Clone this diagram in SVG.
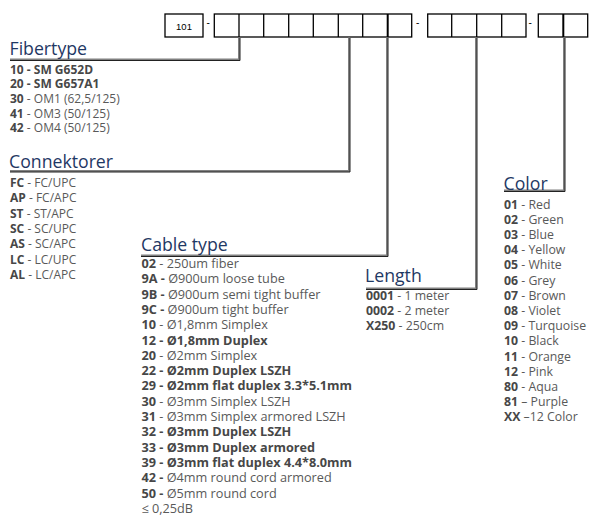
<svg xmlns="http://www.w3.org/2000/svg" width="602" height="521" viewBox="0 0 602 521">
<style>
.box{fill:#fff;stroke:#000;stroke-width:1.3}
.h{font-family:"Open Sans","Liberation Sans",sans-serif;font-size:17.7px;fill:#1f3864}
.t{font-family:"Open Sans","Liberation Sans",sans-serif;font-size:12px;fill:#595959}
.c{font-size:12.7px}
.m{font-size:12.3px}
.b{font-weight:bold;fill:#474747}
.dash{font-family:"Liberation Sans",sans-serif;font-size:10px;fill:#000}
.lg{fill:none;stroke:#808080;stroke-width:2}
.ld{fill:none;stroke:#222;stroke-width:1}
</style>
<rect width="602" height="521" fill="#fff"/>
<g id="code-boxes">
<rect class="box" x="165" y="14" width="38" height="23"/>
<text x="184" y="29.5" text-anchor="middle" font-family="Liberation Sans, sans-serif" font-size="9.5" fill="#000">101</text>
<text class="dash" x="206.5" y="26">-</text>
<rect class="box" x="214.3" y="14" width="197.4" height="23"/>
<path d="M239 14V37M263.7 14V37M288.7 14V37M313.3 14V37M338.3 14V37M362.7 14V37" stroke="#000" stroke-width="1.3"/>
<path d="M387.7 14V37" stroke="#000" stroke-width="2"/>
<text class="dash" x="416" y="26">-</text>
<rect class="box" x="427.7" y="14" width="98.3" height="23"/>
<path d="M451.7 14V37M476.7 14V37M501.7 14V37" stroke="#000" stroke-width="1.3"/>
<text class="dash" x="528.5" y="26">-</text>
<rect class="box" x="538.3" y="14" width="49.4" height="23"/>
<path d="M563.3 14V37" stroke="#000" stroke-width="2"/>
</g>
<g id="connectors">
<polyline class="lg" points="239,37.5 239,59.5 10,59.5"/>
<polyline class="ld" points="240,38 240,60.5 10,60.5"/>
<polyline class="lg" points="349,37.5 349,171 10,171"/>
<polyline class="ld" points="350,38 350,172 10,172"/>
<polyline class="lg" points="387,37.5 387,255.5 141,255.5"/>
<polyline class="ld" points="388,38 388,256.5 141,256.5"/>
<polyline class="lg" points="476,37.5 476,288.5 366,288.5"/>
<polyline class="ld" points="477,38 477,289.5 366,289.5"/>
<polyline class="lg" points="564,37.5 564,190.5 504,190.5"/>
<polyline class="ld" points="565,38 565,191.5 504,191.5"/>
</g>
<g id="fibertype">
<text class="h" x="9.5" y="55">Fibertype</text>
<text class="t" x="10" y="73.5"><tspan class="b">10 - SM G652D</tspan></text>
<text class="t" x="10" y="88.2"><tspan class="b">20 - SM G657A1</tspan></text>
<text class="t" x="10" y="102.9"><tspan class="b">30</tspan> - OM1 (62,5/125)</text>
<text class="t" x="10" y="117.6"><tspan class="b">41</tspan> - OM3 (50/125)</text>
<text class="t" x="10" y="132.3"><tspan class="b">42</tspan> - OM4 (50/125)</text>
</g>
<g id="connektorer">
<text class="h" x="9" y="168">Connektorer</text>
<text class="t" x="10" y="187"><tspan class="b">FC</tspan> - FC/UPC</text>
<text class="t" x="10" y="202.3"><tspan class="b">AP</tspan> - FC/APC</text>
<text class="t" x="10" y="217.6"><tspan class="b">ST</tspan> - ST/APC</text>
<text class="t" x="10" y="232.9"><tspan class="b">SC</tspan> - SC/UPC</text>
<text class="t" x="10" y="248.2"><tspan class="b">AS</tspan> - SC/APC</text>
<text class="t" x="10" y="263.5"><tspan class="b">LC</tspan> - LC/UPC</text>
<text class="t" x="10" y="278.8"><tspan class="b">AL</tspan> - LC/APC</text>
</g>
<g id="cable-type">
<text class="h" x="141" y="251">Cable type</text>
<text class="t c" x="141.5" y="268"><tspan class="b">02</tspan> - 250um fiber</text>
<text class="t c" x="141.5" y="283.3"><tspan class="b">9A -</tspan> Ø900um loose tube</text>
<text class="t c" x="141.5" y="298.6"><tspan class="b">9B -</tspan> Ø900um semi tight buffer</text>
<text class="t c" x="141.5" y="313.9"><tspan class="b">9C -</tspan> Ø900um tight buffer</text>
<text class="t c" x="141.5" y="329.2"><tspan class="b">10</tspan> - Ø1,8mm Simplex</text>
<text class="t c" x="141.5" y="344.5"><tspan class="b">12 - Ø1,8mm Duplex</tspan></text>
<text class="t c" x="141.5" y="359.8"><tspan class="b">20</tspan> - Ø2mm Simplex</text>
<text class="t c" x="141.5" y="375.1"><tspan class="b">22 - Ø2mm Duplex LSZH</tspan></text>
<text class="t c" x="141.5" y="390.4"><tspan class="b">29 - Ø2mm flat duplex 3.3*5.1mm</tspan></text>
<text class="t c" x="141.5" y="405.7"><tspan class="b">30</tspan> - Ø3mm Simplex LSZH</text>
<text class="t c" x="141.5" y="421"><tspan class="b">31</tspan> - Ø3mm Simplex armored LSZH</text>
<text class="t c" x="141.5" y="436.3"><tspan class="b">32 - Ø3mm Duplex LSZH</tspan></text>
<text class="t c" x="141.5" y="451.6"><tspan class="b">33 - Ø3mm Duplex armored</tspan></text>
<text class="t c" x="141.5" y="466.9"><tspan class="b">39 - Ø3mm flat duplex 4.4*8.0mm</tspan></text>
<text class="t c" x="141.5" y="482.2"><tspan class="b">42 -</tspan> Ø4mm round cord armored</text>
<text class="t c" x="141.5" y="497.5"><tspan class="b">50 -</tspan> Ø5mm round cord</text>
<text class="t c" x="141.5" y="512.8">≤ 0,25dB</text>
</g>
<g id="length">
<text class="h" x="365" y="282">Length</text>
<text class="t m" x="366" y="300"><tspan class="b">0001</tspan> - 1 meter</text>
<text class="t m" x="366" y="315"><tspan class="b">0002</tspan> - 2 meter</text>
<text class="t m" x="366" y="330"><tspan class="b">X250</tspan> - 250cm</text>
</g>
<g id="color">
<text class="h" x="503.5" y="190">Color</text>
<text class="t m" x="504" y="208.5"><tspan class="b">01</tspan> - Red</text>
<text class="t m" x="504" y="223.7"><tspan class="b">02</tspan> - Green</text>
<text class="t m" x="504" y="238.9"><tspan class="b">03</tspan> - Blue</text>
<text class="t m" x="504" y="254.1"><tspan class="b">04</tspan> - Yellow</text>
<text class="t m" x="504" y="269.3"><tspan class="b">05</tspan> - White</text>
<text class="t m" x="504" y="284.5"><tspan class="b">06</tspan> - Grey</text>
<text class="t m" x="504" y="299.7"><tspan class="b">07</tspan> - Brown</text>
<text class="t m" x="504" y="314.9"><tspan class="b">08</tspan> - Violet</text>
<text class="t m" x="504" y="330.1"><tspan class="b">09</tspan> - Turquoise</text>
<text class="t m" x="504" y="345.3"><tspan class="b">10</tspan> - Black</text>
<text class="t m" x="504" y="360.5"><tspan class="b">11</tspan> - Orange</text>
<text class="t m" x="504" y="375.7"><tspan class="b">12</tspan> - Pink</text>
<text class="t m" x="504" y="390.9"><tspan class="b">80</tspan> - Aqua</text>
<text class="t m" x="504" y="406.1"><tspan class="b">81</tspan> – Purple</text>
<text class="t m" x="504" y="421.3"><tspan class="b">XX</tspan> –12 Color</text>
</g>
</svg>
